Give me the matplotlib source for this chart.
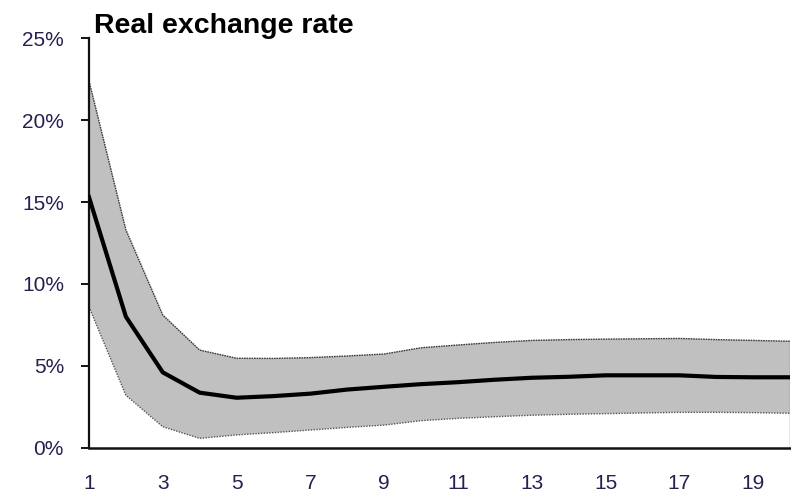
import matplotlib
matplotlib.use("Agg")
import matplotlib.pyplot as plt
from matplotlib.ticker import FuncFormatter

# Impulse response of the real exchange rate with confidence band
periods = list(range(1, 21))
median = [15.3, 8.0, 4.6, 3.36, 3.05, 3.15, 3.3, 3.55, 3.72, 3.88,
          4.0, 4.15, 4.27, 4.33, 4.42, 4.42, 4.42, 4.32, 4.3, 4.3]
upper = [22.4, 13.3, 8.1, 5.96, 5.46, 5.45, 5.5, 5.6, 5.72, 6.1,
         6.27, 6.43, 6.55, 6.6, 6.63, 6.65, 6.67, 6.6, 6.55, 6.5]
lower = [8.6, 3.2, 1.28, 0.57, 0.78, 0.92, 1.08, 1.24, 1.38, 1.65,
         1.79, 1.89, 1.98, 2.04, 2.08, 2.12, 2.16, 2.16, 2.14, 2.1]
x_ticks = [1, 3, 5, 7, 9, 11, 13, 15, 17, 19]
y_ticks = [0, 5, 10, 15, 20, 25]

title = "Real exchange rate"
label_color = "#24204f"

plt.rcParams["font.family"] = ["Liberation Sans", "DejaVu Sans"]

fig = plt.figure(figsize=(7.91, 4.97), dpi=100)
ax = fig.add_axes([0.1125, 0.0992, 0.8862, 0.8238])

ax.fill_between(periods, lower, upper, facecolor="#c0c0c0", edgecolor="none", zorder=1)
ax.plot(periods, upper, color="#3a3a3a", lw=1.0, ls=(0, (1.2, 0.6)), zorder=2)
ax.plot(periods, lower, color="#555555", lw=1.0, ls=(0, (1, 1)), zorder=2)
ax.vlines(periods[-1], 0, upper[-1], color="#808080", lw=1.0, zorder=2)
ax.plot(periods, median, color="black", lw=3.0, solid_joinstyle="round", zorder=3)

ax.set_xlim(periods[0], periods[-1])
ax.set_ylim(0, 25)

ax.set_xticks(x_ticks)
ax.set_yticks(y_ticks)
ax.yaxis.set_major_formatter(FuncFormatter(lambda v, p: f"{v:.0f}%"))

for s in ("top", "right"):
    ax.spines[s].set_visible(False)
ax.spines["left"].set_linewidth(1.6)
ax.spines["bottom"].set_linewidth(1.8)
ax.spines["left"].set_color("#111111")
ax.spines["bottom"].set_color("#111111")

ax.tick_params(axis="y", direction="out", length=6, width=1.4, pad=12,
               labelsize=15, labelcolor=label_color, color="#111111")
ax.tick_params(axis="x", length=0, pad=19, labelsize=15, labelcolor=label_color)

fig.text(0.119, 0.948, title, fontsize=20.5, fontweight="bold", ha="left", va="center")

fig.savefig("out.png", dpi=100)
